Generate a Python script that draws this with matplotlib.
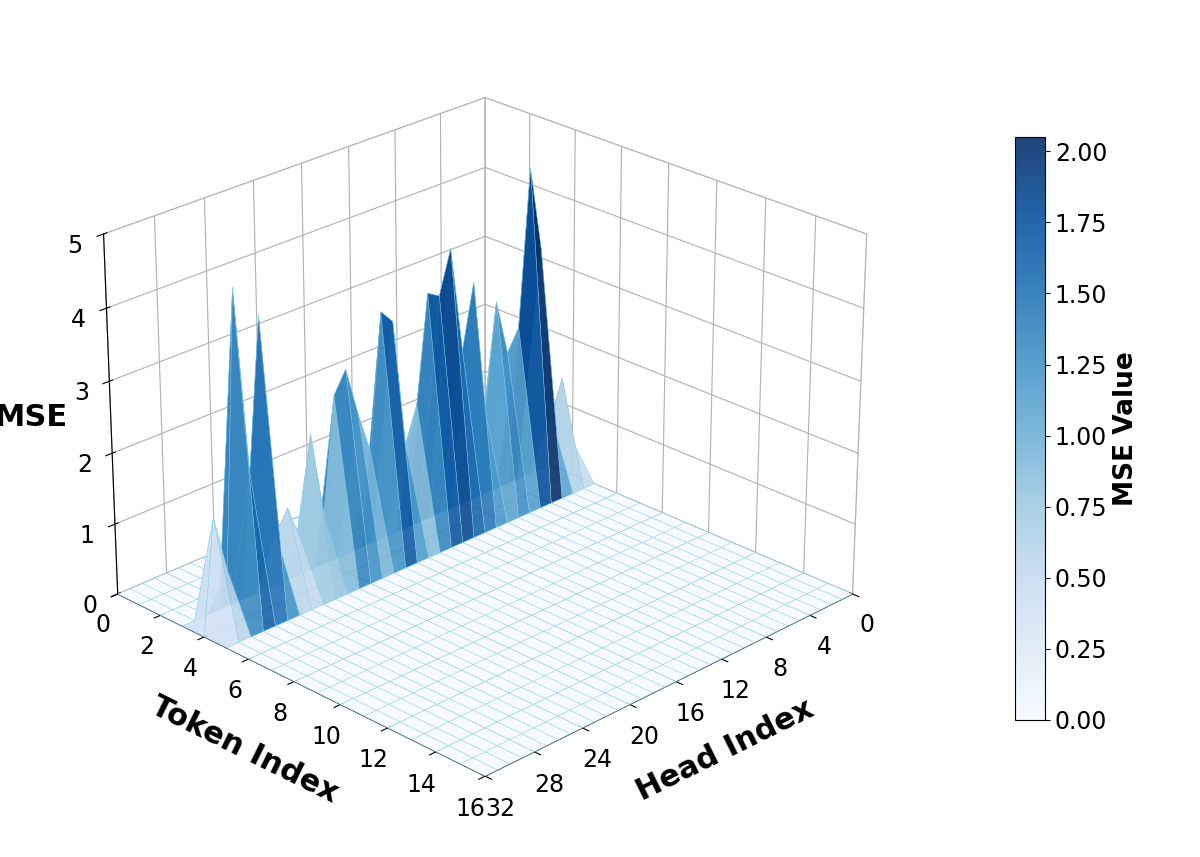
import numpy as np
import matplotlib
matplotlib.use("Agg")
import matplotlib.pyplot as plt

heads = np.arange(0, 33)
tokens = np.arange(0, 17)
ridge_token = 4
# values for heads 0..32
ridge_values = [0.5, 1.5, 1.0, 3.5, 4.7, 2.5, 2.2, 3.0, 1.5, 3.4, 2.5, 4.0, 3.4, 3.5, 2.0,
                1.5, 3.3, 3.5, 1.6, 2.2, 2.9, 2.6, 1.0, 2.2, 0.8, 1.3, 1.0, 4.1, 2.0, 4.6,
                0.8, 1.6, 0.0]

X, Y = np.meshgrid(heads, tokens)
Z = np.zeros_like(X, dtype=float)
Z[ridge_token, :] = ridge_values

fig = plt.figure(figsize=(12, 8.57), dpi=100)
ax = fig.add_subplot(111, projection='3d')
ax.set_position([0.02, 0.02, 0.75, 0.96])
surf = ax.plot_surface(X, Y, Z, cmap='Blues', edgecolor='skyblue', linewidth=0.3,
                       alpha=0.9, rstride=1, cstride=1, antialiased=True)
ax.view_init(elev=25, azim=45)
ax.set_zlim(0, 5)
ax.set_xlim(0, 32)
ax.set_ylim(0, 16)
ax.set_xticks(np.arange(0, 33, 4))
ax.set_yticks(np.arange(0, 17, 2))
ax.set_zticks(np.arange(0, 6, 1))
ax.tick_params(labelsize=17)
ax.set_xlabel('Head Index', fontsize=22, fontweight='bold', labelpad=18)
ax.set_ylabel('Token Index', fontsize=22, fontweight='bold', labelpad=18)
ax.set_zlabel('MSE', fontsize=22, fontweight='bold', labelpad=12)
for a in (ax.xaxis, ax.yaxis, ax.zaxis):
    a.pane.fill = False
    a.pane.set_edgecolor('lightgray')

cax = fig.add_axes([0.846, 0.16, 0.025, 0.68])
cb = fig.colorbar(surf, cax=cax)
cb.ax.tick_params(labelsize=17)
cb.set_label('MSE Value', fontsize=19, fontweight='bold')
fig.savefig('out.png', dpi=100)
